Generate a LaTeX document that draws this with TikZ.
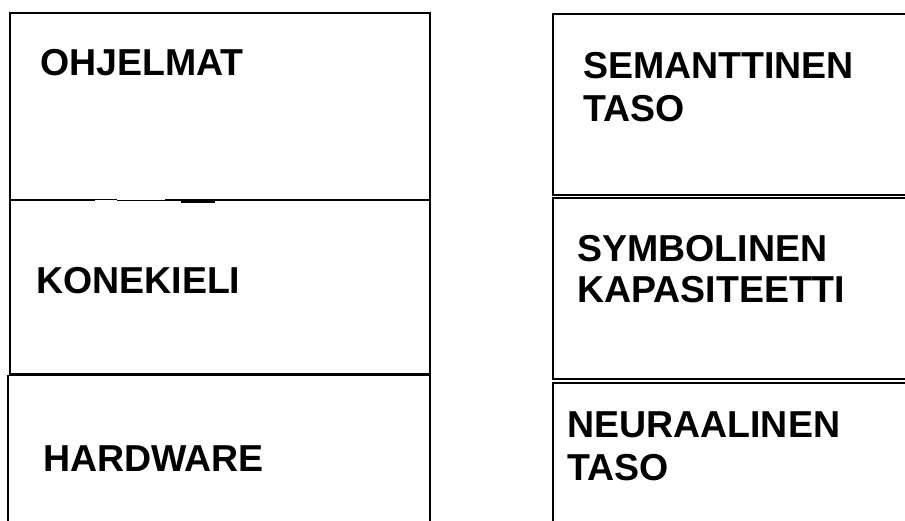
\documentclass[tikz,border=0pt]{standalone}
\usepackage{fontspec}
\setmainfont{Liberation Sans}
\begin{document}
\begin{tikzpicture}[x=1pt,y=-1pt,
  frame/.style={draw=black, line width=1.8pt},
  thinline/.style={draw=black, line width=0.9pt},
  lbl/.style={anchor=base west, inner sep=0pt, font=\fontsize{37.5}{43}\selectfont\bfseries}]
\useasboundingbox (0,0) rectangle (905,521);
\clip (0,0) rectangle (905,521);
% left column
\draw[frame] (10,200) -- (10,13) -- (430,13) -- (430,200);
\draw[frame] (10,200) -- (95,200);
\draw[thinline] (95,199.3) -- (117,199.3);
\draw[thinline] (117,200.6) -- (165,200.6);
\draw[frame] (165,200) -- (430,200);
\fill[black] (181,199.5) rectangle (215,203.5);
\draw[frame] (10,200) -- (10,374) -- (430,374) -- (430,200);
\draw[frame] (8,540) -- (8,375.5) -- (430,375.5) -- (430,540);
% right column
\draw[frame] (553,14) rectangle (930,195);
\draw[frame] (553,198) rectangle (930,379);
\draw[frame] (553,383) rectangle (930,540);
% labels
\node[lbl] (ohj) at (40,76) {OHJELMAT};
\node[lbl] (kon) at (36,294) {KONEKIELI};
\node[lbl] (hw) at (43,471) {HARDWARE};
\node[lbl] (sem1) at (583,79) {SEMANTTINEN};
\node[lbl] (sem2) at (583,122) {TASO};
\node[lbl] (sym1) at (577,262) {SYMBOLINEN};
\node[lbl] (sym2) at (577,303) {KAPASITEETTI};
\node[lbl] (neu1) at (567,437) {NEURAALINEN};
\node[lbl] (neu2) at (567,480) {TASO};
\end{tikzpicture}
\end{document}
